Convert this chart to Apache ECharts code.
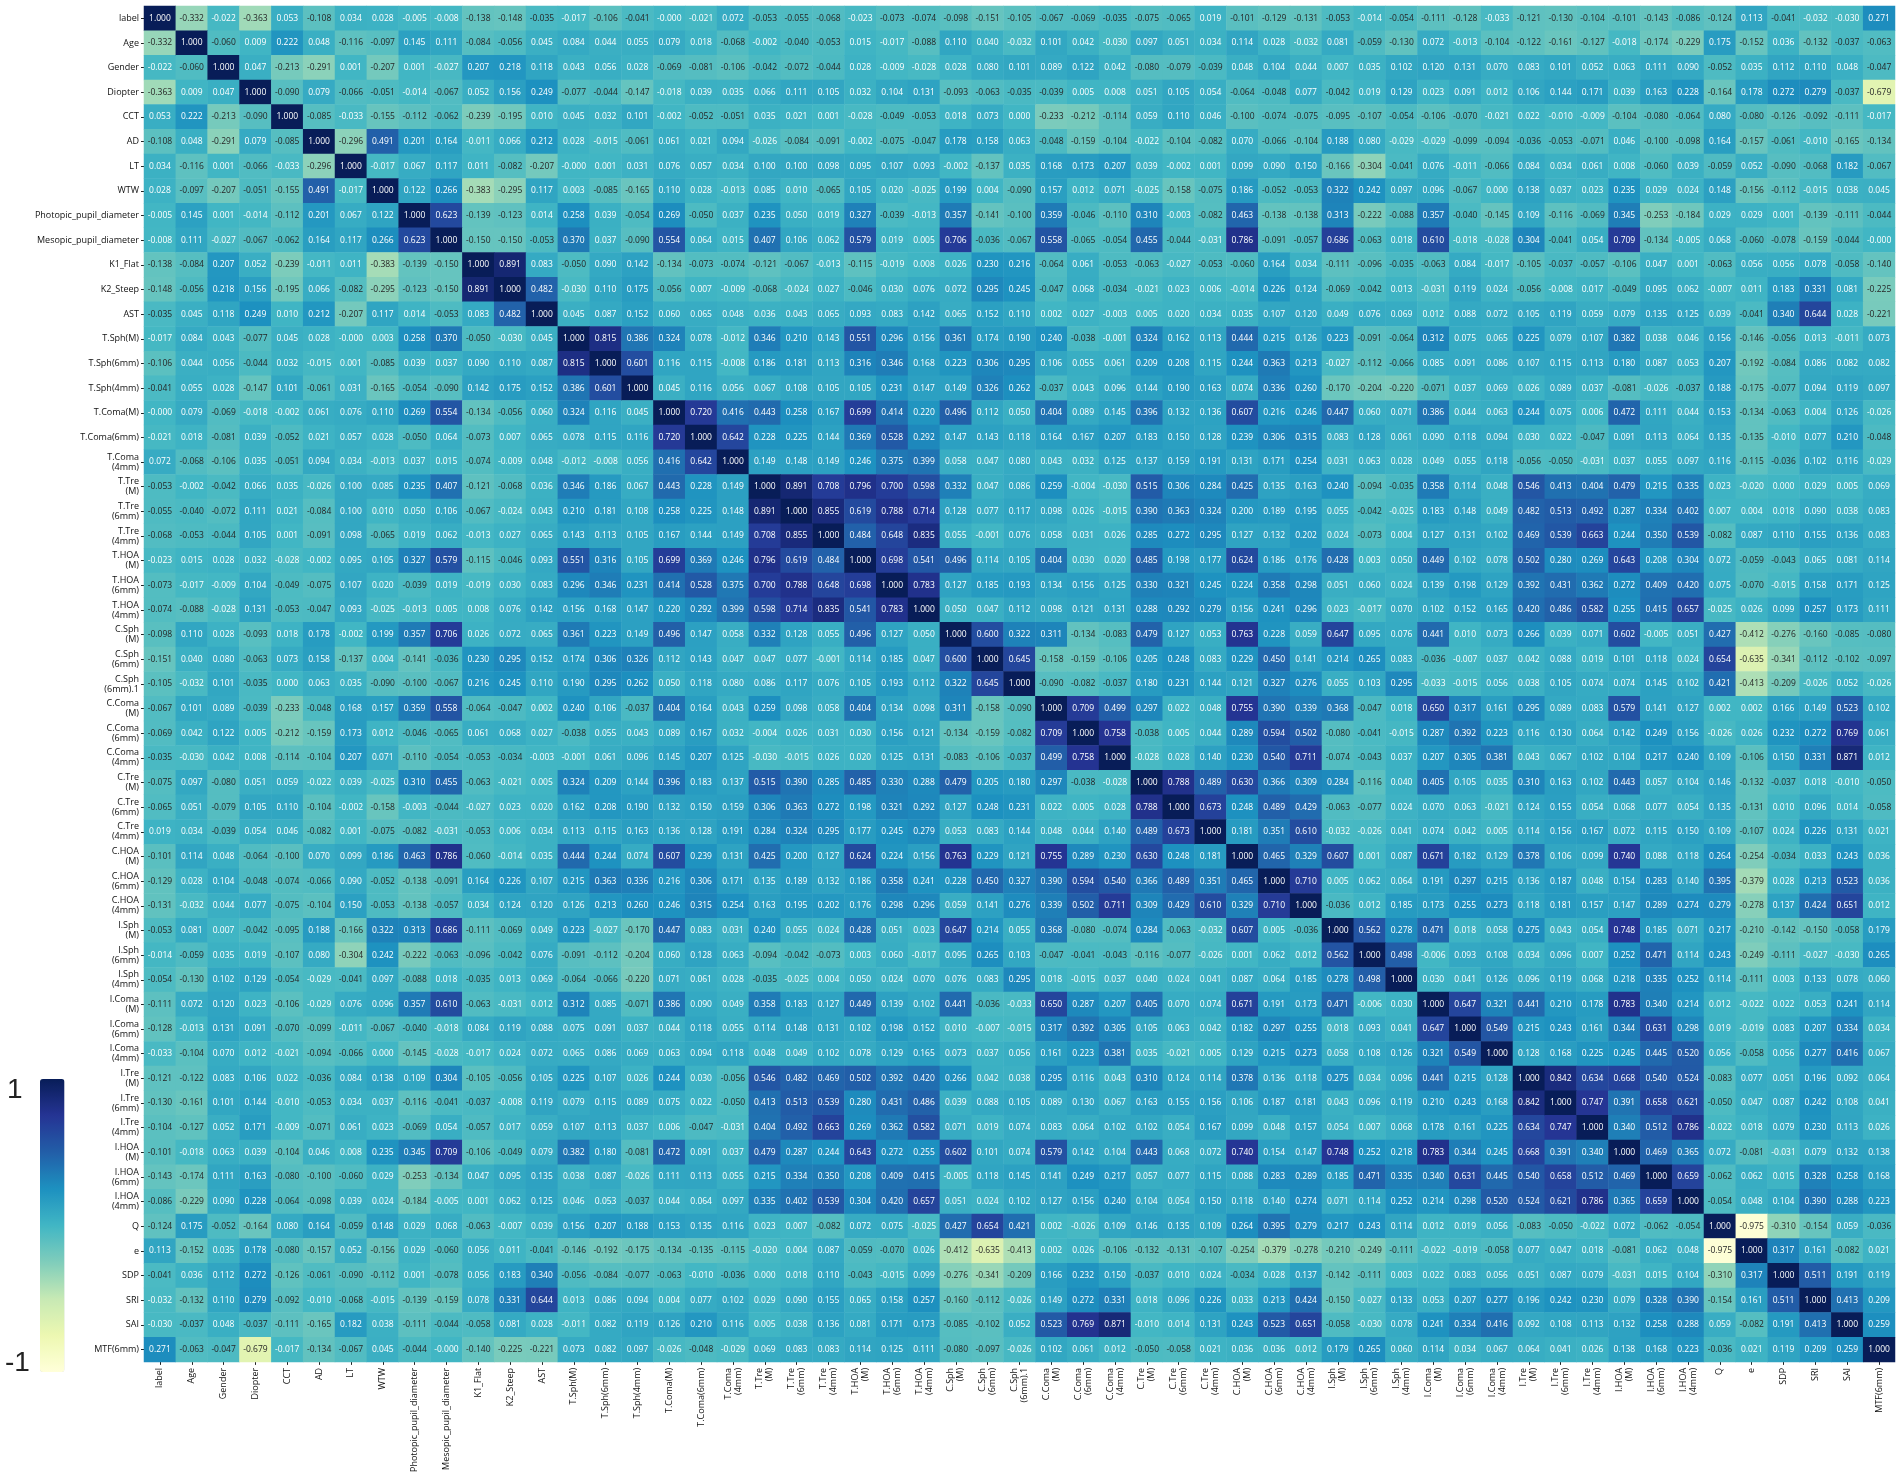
<!DOCTYPE html>
<html>
<head>
<meta charset="utf-8">
<style>html,body{margin:0;padding:0;background:#fff}#c{width:1902px;height:1475px}</style>
<script src="https://cdn.jsdelivr.net/npm/echarts@6/dist/echarts.min.js"></script>
</head>
<body>
<div id="c"></div>
<script>
const categories = ['label','Age','Gender','Diopter','CCT','AD','LT','WTW','Photopic_pupil_diameter','Mesopic_pupil_diameter','K1_Flat','K2_Steep','AST','T.Sph(M)','T.Sph(6mm)','T.Sph(4mm)','T.Coma(M)','T.Coma(6mm)','T.Coma\n(4mm)','T.Tre\n(M)','T.Tre\n(6mm)','T.Tre\n(4mm)','T.HOA\n(M)','T.HOA\n(6mm)','T.HOA\n(4mm)','C.Sph\n(M)','C.Sph\n(6mm)','C.Sph\n(6mm).1','C.Coma\n(M)','C.Coma\n(6mm)','C.Coma\n(4mm)','C.Tre\n(M)','C.Tre\n(6mm)','C.Tre\n(4mm)','C.HOA\n(M)','C.HOA\n(6mm)','C.HOA\n(4mm)','I.Sph\n(M)','I.Sph\n(6mm)','I.Sph\n(4mm)','I.Coma\n(M)','I.Coma\n(6mm)','I.Coma\n(4mm)','I.Tre\n(M)','I.Tre\n(6mm)','I.Tre\n(4mm)','I.HOA\n(M)','I.HOA\n(6mm)','I.HOA\n(4mm)','Q','e','SDP','SRI','SAI','MTF(6mm)'];
// Upper triangle of the correlation table: each row lists the columns right of the diagonal.
const u00=[-.332,-.022,-.363,.053,-.108,.034,.028,-.005,-.008,-.138,-.148,-.035,-.017,-.106,-.041,-0,-.021,.072,-.053,-.055,-.068,-.023,-.073,-.074,-.098,-.151,-.105,-.067,-.069,-.035,-.075,-.065,.019,-.101,-.129,-.131,-.053,-.014,-.054,-.111,-.128,-.033,-.121,-.130,-.104,-.101,-.143,-.086,-.124,.113,-.041,-.032,-.030,.271];
const u01=[-.060,.009,.222,.048,-.116,-.097,.145,.111,-.084,-.056,.045,.084,.044,.055,.079,.018,-.068,-.002,-.040,-.053,.015,-.017,-.088,.110,.040,-.032,.101,.042,-.030,.097,.051,.034,.114,.028,-.032,.081,-.059,-.130,.072,-.013,-.104,-.122,-.161,-.127,-.018,-.174,-.229,.175,-.152,.036,-.132,-.037,-.063];
const u02=[.047,-.213,-.291,.001,-.207,.001,-.027,.207,.218,.118,.043,.056,.028,-.069,-.081,-.106,-.042,-.072,-.044,.028,-.009,-.028,.028,.080,.101,.089,.122,.042,-.080,-.079,-.039,.048,.104,.044,.007,.035,.102,.120,.131,.070,.083,.101,.052,.063,.111,.090,-.052,.035,.112,.110,.048,-.047];
const u03=[-.090,.079,-.066,-.051,-.014,-.067,.052,.156,.249,-.077,-.044,-.147,-.018,.039,.035,.066,.111,.105,.032,.104,.131,-.093,-.063,-.035,-.039,.005,.008,.051,.105,.054,-.064,-.048,.077,-.042,.019,.129,.023,.091,.012,.106,.144,.171,.039,.163,.228,-.164,.178,.272,.279,-.037,-.679];
const u04=[-.085,-.033,-.155,-.112,-.062,-.239,-.195,.010,.045,.032,.101,-.002,-.052,-.051,.035,.021,.001,-.028,-.049,-.053,.018,.073,.000,-.233,-.212,-.114,.059,.110,.046,-.100,-.074,-.075,-.095,-.107,-.054,-.106,-.070,-.021,.022,-.010,-.009,-.104,-.080,-.064,.080,-.080,-.126,-.092,-.111,-.017];
const u05=[-.296,.491,.201,.164,-.011,.066,.212,.028,-.015,-.061,.061,.021,.094,-.026,-.084,-.091,-.002,-.075,-.047,.178,.158,.063,-.048,-.159,-.104,-.022,-.104,-.082,.070,-.066,-.104,.188,.080,-.029,-.029,-.099,-.094,-.036,-.053,-.071,.046,-.100,-.098,.164,-.157,-.061,-.010,-.165,-.134];
const u06=[-.017,.067,.117,.011,-.082,-.207,-0,.001,.031,.076,.057,.034,.100,.100,.098,.095,.107,.093,-.002,-.137,.035,.168,.173,.207,.039,-.002,.001,.099,.090,.150,-.166,-.304,-.041,.076,-.011,-.066,.084,.034,.061,.008,-.060,.039,-.059,.052,-.090,-.068,.182,-.067];
const u07=[.122,.266,-.383,-.295,.117,.003,-.085,-.165,.110,.028,-.013,.085,.010,-.065,.105,.020,-.025,.199,.004,-.090,.157,.012,.071,-.025,-.158,-.075,.186,-.052,-.053,.322,.242,.097,.096,-.067,.000,.138,.037,.023,.235,.029,.024,.148,-.156,-.112,-.015,.038,.045];
const u08=[.623,-.139,-.123,.014,.258,.039,-.054,.269,-.050,.037,.235,.050,.019,.327,-.039,-.013,.357,-.141,-.100,.359,-.046,-.110,.310,-.003,-.082,.463,-.138,-.138,.313,-.222,-.088,.357,-.040,-.145,.109,-.116,-.069,.345,-.253,-.184,.029,.029,.001,-.139,-.111,-.044];
const u09=[-.150,-.150,-.053,.370,.037,-.090,.554,.064,.015,.407,.106,.062,.579,.019,.005,.706,-.036,-.067,.558,-.065,-.054,.455,-.044,-.031,.786,-.091,-.057,.686,-.063,.018,.610,-.018,-.028,.304,-.041,.054,.709,-.134,-.005,.068,-.060,-.078,-.159,-.044,-0];
const u10=[.891,.083,-.050,.090,.142,-.134,-.073,-.074,-.121,-.067,-.013,-.115,-.019,.008,.026,.230,.216,-.064,.061,-.053,-.063,-.027,-.053,-.060,.164,.034,-.111,-.096,-.035,-.063,.084,-.017,-.105,-.037,-.057,-.106,.047,.001,-.063,.056,.056,.078,-.058,-.140];
const u11=[.482,-.030,.110,.175,-.056,.007,-.009,-.068,-.024,.027,-.046,.030,.076,.072,.295,.245,-.047,.068,-.034,-.021,.023,.006,-.014,.226,.124,-.069,-.042,.013,-.031,.119,.024,-.056,-.008,.017,-.049,.095,.062,-.007,.011,.183,.331,.081,-.225];
const u12=[.045,.087,.152,.060,.065,.048,.036,.043,.065,.093,.083,.142,.065,.152,.110,.002,.027,-.003,.005,.020,.034,.035,.107,.120,.049,.076,.069,.012,.088,.072,.105,.119,.059,.079,.135,.125,.039,-.041,.340,.644,.028,-.221];
const u13=[.815,.386,.324,.078,-.012,.346,.210,.143,.551,.296,.156,.361,.174,.190,.240,-.038,-.001,.324,.162,.113,.444,.215,.126,.223,-.091,-.064,.312,.075,.065,.225,.079,.107,.382,.038,.046,.156,-.146,-.056,.013,-.011,.073];
const u14=[.601,.116,.115,-.008,.186,.181,.113,.316,.346,.168,.223,.306,.295,.106,.055,.061,.209,.208,.115,.244,.363,.213,-.027,-.112,-.066,.085,.091,.086,.107,.115,.113,.180,.087,.053,.207,-.192,-.084,.086,.082,.082];
const u15=[.045,.116,.056,.067,.108,.105,.105,.231,.147,.149,.326,.262,-.037,.043,.096,.144,.190,.163,.074,.336,.260,-.170,-.204,-.220,-.071,.037,.069,.026,.089,.037,-.081,-.026,-.037,.188,-.175,-.077,.094,.119,.097];
const u16=[.720,.416,.443,.258,.167,.699,.414,.220,.496,.112,.050,.404,.089,.145,.396,.132,.136,.607,.216,.246,.447,.060,.071,.386,.044,.063,.244,.075,.006,.472,.111,.044,.153,-.134,-.063,.004,.126,-.026];
const u17=[.642,.228,.225,.144,.369,.528,.292,.147,.143,.118,.164,.167,.207,.183,.150,.128,.239,.306,.315,.083,.128,.061,.090,.118,.094,.030,.022,-.047,.091,.113,.064,.135,-.135,-.010,.077,.210,-.048];
const u18=[.149,.148,.149,.246,.375,.399,.058,.047,.080,.043,.032,.125,.137,.159,.191,.131,.171,.254,.031,.063,.028,.049,.055,.118,-.056,-.050,-.031,.037,.055,.097,.116,-.115,-.036,.102,.116,-.029];
const u19=[.891,.708,.796,.700,.598,.332,.047,.086,.259,-.004,-.030,.515,.306,.284,.425,.135,.163,.240,-.094,-.035,.358,.114,.048,.546,.413,.404,.479,.215,.335,.023,-.020,.000,.029,.005,.069];
const u20=[.855,.619,.788,.714,.128,.077,.117,.098,.026,-.015,.390,.363,.324,.200,.189,.195,.055,-.042,-.025,.183,.148,.049,.482,.513,.492,.287,.334,.402,.007,.004,.018,.090,.038,.083];
const u21=[.484,.648,.835,.055,-.001,.076,.058,.031,.026,.285,.272,.295,.127,.132,.202,.024,-.073,.004,.127,.131,.102,.469,.539,.663,.244,.350,.539,-.082,.087,.110,.155,.136,.083];
const u22=[.698,.541,.496,.114,.105,.404,.030,.020,.485,.198,.177,.624,.186,.176,.428,.003,.050,.449,.102,.078,.502,.280,.269,.643,.208,.304,.072,-.059,-.043,.065,.081,.114];
const u23=[.783,.127,.185,.193,.134,.156,.125,.330,.321,.245,.224,.358,.298,.051,.060,.024,.139,.198,.129,.392,.431,.362,.272,.409,.420,.075,-.070,-.015,.158,.171,.125];
const u24=[.050,.047,.112,.098,.121,.131,.288,.292,.279,.156,.241,.296,.023,-.017,.070,.102,.152,.165,.420,.486,.582,.255,.415,.657,-.025,.026,.099,.257,.173,.111];
const u25=[.600,.322,.311,-.134,-.083,.479,.127,.053,.763,.228,.059,.647,.095,.076,.441,.010,.073,.266,.039,.071,.602,-.005,.051,.427,-.412,-.276,-.160,-.085,-.080];
const u26=[.645,-.158,-.159,-.106,.205,.248,.083,.229,.450,.141,.214,.265,.083,-.036,-.007,.037,.042,.088,.019,.101,.118,.024,.654,-.635,-.341,-.112,-.102,-.097];
const u27=[-.090,-.082,-.037,.180,.231,.144,.121,.327,.276,.055,.103,.295,-.033,-.015,.056,.038,.105,.074,.074,.145,.102,.421,-.413,-.209,-.026,.052,-.026];
const u28=[.709,.499,.297,.022,.048,.755,.390,.339,.368,-.047,.018,.650,.317,.161,.295,.089,.083,.579,.141,.127,.002,.002,.166,.149,.523,.102];
const u29=[.758,-.038,.005,.044,.289,.594,.502,-.080,-.041,-.015,.287,.392,.223,.116,.130,.064,.142,.249,.156,-.026,.026,.232,.272,.769,.061];
const u30=[-.028,.028,.140,.230,.540,.711,-.074,-.043,.037,.207,.305,.381,.043,.067,.102,.104,.217,.240,.109,-.106,.150,.331,.871,.012];
const u31=[.788,.489,.630,.366,.309,.284,-.116,.040,.405,.105,.035,.310,.163,.102,.443,.057,.104,.146,-.132,-.037,.018,-.010,-.050];
const u32=[.673,.248,.489,.429,-.063,-.077,.024,.070,.063,-.021,.124,.155,.054,.068,.077,.054,.135,-.131,.010,.096,.014,-.058];
const u33=[.181,.351,.610,-.032,-.026,.041,.074,.042,.005,.114,.156,.167,.072,.115,.150,.109,-.107,.024,.226,.131,.021];
const u34=[.465,.329,.607,.001,.087,.671,.182,.129,.378,.106,.099,.740,.088,.118,.264,-.254,-.034,.033,.243,.036];
const u35=[.710,.005,.062,.064,.191,.297,.215,.136,.187,.048,.154,.283,.140,.395,-.379,.028,.213,.523,.036];
const u36=[-.036,.012,.185,.173,.255,.273,.118,.181,.157,.147,.289,.274,.279,-.278,.137,.424,.651,.012];
const u37=[.562,.278,.471,.018,.058,.275,.043,.054,.748,.185,.071,.217,-.210,-.142,-.150,-.058,.179];
const u38=[.498,-.006,.093,.108,.034,.096,.007,.252,.471,.114,.243,-.249,-.111,-.027,-.030,.265];
const u39=[.030,.041,.126,.096,.119,.068,.218,.335,.252,.114,-.111,.003,.133,.078,.060];
const u40=[.647,.321,.441,.210,.178,.783,.340,.214,.012,-.022,.022,.053,.241,.114];
const u41=[.549,.215,.243,.161,.344,.631,.298,.019,-.019,.083,.207,.334,.034];
const u42=[.128,.168,.225,.245,.445,.520,.056,-.058,.056,.277,.416,.067];
const u43=[.842,.634,.668,.540,.524,-.083,.077,.051,.196,.092,.064];
const u44=[.747,.391,.658,.621,-.050,.047,.087,.242,.108,.041];
const u45=[.340,.512,.786,-.022,.018,.079,.230,.113,.026];
const u46=[.469,.365,.072,-.081,-.031,.079,.132,.138];
const u47=[.659,-.062,.062,.015,.328,.258,.168];
const u48=[-.054,.048,.104,.390,.288,.223];
const u49=[-.975,-.310,-.154,.059,-.036];
const u50=[.317,.161,-.082,.021];
const u51=[.511,.191,.119];
const u52=[.413,.209];
const u53=[.259];
const upper=[u00,u01,u02,u03,u04,u05,u06,u07,u08,u09,u10,u11,u12,u13,u14,u15,u16,u17,u18,u19,u20,u21,u22,u23,u24,u25,u26,u27,u28,u29,u30,u31,u32,u33,u34,u35,u36,u37,u38,u39,u40,u41,u42,u43,u44,u45,u46,u47,u48,u49,u50,u51,u52,u53];
const scaleColors=['#ffffd9','#edf8b1','#c7e9b4','#7fcdbb','#41b6c4','#1d91c0','#225ea8','#253494','#081d58'];

upper.forEach((r,i)=>{ if(r.length!==54-i) throw new Error('row '+i+' has '+r.length+' want '+(54-i)); });
const n=categories.length;
const cells=[];
function push(x,y,v){
  cells.push({value:[x,y,v],label:{color:v<=-0.034?'#262626':'#ffffff'}});
}
for(let i=0;i<n;i++){
  push(i,i,1);
  if(i<n-1) upper[i].forEach((v,k)=>{const j=i+1+k;push(j,i,v);push(i,j,v);});
}
const font='"Open Sans"';
const axisCommon={
  type:'category',data:categories,
  axisLine:{show:false},
  splitLine:{show:false},
  axisTick:{show:true,alignWithLabel:true,length:3,lineStyle:{color:'#222',width:1}}
};
const chart=echarts.init(document.getElementById('c'),null,{renderer:'canvas'});
chart.setOption({
  animation:false,
  backgroundColor:'#fff',
  grid:{left:144,top:6,width:1751,height:1366,containLabel:false},
  xAxis:Object.assign({},axisCommon,{position:'bottom',
    axisLabel:{interval:0,rotate:90,margin:6,fontFamily:font,fontSize:9,lineHeight:10,color:'#111'}}),
  yAxis:Object.assign({},axisCommon,{inverse:true,
    axisLabel:{interval:0,margin:5,fontFamily:font,fontSize:9,lineHeight:10,color:'#111',align:'right'}}),
  visualMap:{type:'continuous',min:-1,max:1,dimension:2,calculable:false,realtime:false,
    show:true,left:40,top:1079,itemWidth:24.5,itemHeight:293,padding:0,text:['',''],textGap:0,hoverLink:false,
    inRange:{color:scaleColors}},
  graphic:[
    {type:'text',left:7,top:1076,silent:true,style:{text:'1',font:'28px "Liberation Sans"',fill:'#222'}},
    {type:'text',left:5,top:1349,silent:true,style:{text:'-1',font:'28px "Liberation Sans"',fill:'#222'}}
  ],
  series:[{
    type:'heatmap',data:cells,silent:true,progressive:0,
    emphasis:{disabled:true},
    label:{show:true,fontFamily:font,fontSize:8.5,
      formatter:p=>{const v=p.value[2];return Object.is(v,-0)?'-0.000':v.toFixed(3);}}
  }]
});
</script>
</body>
</html>
